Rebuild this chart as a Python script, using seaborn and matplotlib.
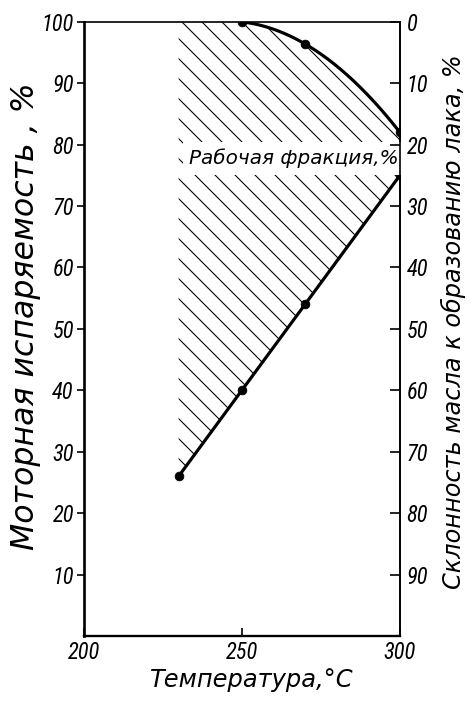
import numpy as np
import pandas as pd
import matplotlib
matplotlib.use("Agg")
import matplotlib.pyplot as plt
import seaborn as sns

# ---- data ----
evap_temp = [230, 250, 270, 300]          # °C
evap_value = [26, 40, 54, 75]             # Моторная испаряемость, % (left axis)
lacq_temp = [250, 270, 300]               # °C
lacq_value = [0, 3.6, 18]                 # Склонность к образованию лака, % (right axis, reversed)
x_ticks = [200, 250, 300]
left_ticks = [10, 20, 30, 40, 50, 60, 70, 80, 90, 100]
right_ticks = [0, 10, 20, 30, 40, 50, 60, 70, 80, 90]
fraction_start = 230

sns.set_theme(style="white")
plt.rcParams["font.family"] = ["Liberation Sans Narrow", "Roboto Condensed", "DejaVu Sans"]
plt.rcParams["font.stretch"] = "condensed"
plt.rcParams["font.style"] = "italic"
plt.rcParams["hatch.linewidth"] = 0.65
plt.rcParams["hatch.color"] = "black"
for k in ["text.color", "axes.labelcolor", "xtick.color", "ytick.color"]:
    plt.rcParams[k] = "black"

LABEL_FONT = dict(family=["DejaVu Sans"], style="italic", stretch="normal")

DPI = 120
fig = plt.figure(figsize=(471 / DPI, 705 / DPI), dpi=DPI)
ax = fig.add_axes([0.178, 0.098, 0.671, 0.871])
ax.set_facecolor("white")

df_evap = pd.DataFrame({"t": evap_temp, "v": evap_value})

# smooth curve for lacquer tendency (quadratic through the read points)
coef = np.polyfit(lacq_temp, lacq_value, 2)
t_s = np.linspace(lacq_temp[0], lacq_temp[-1], 100)
df_lacq_s = pd.DataFrame({"t": t_s, "v": 100 - np.polyval(coef, t_s)})

# hatched working-fraction area
t_f = np.linspace(fraction_start, evap_temp[-1], 300)
upper = np.where(t_f < lacq_temp[0], 100,
                 100 - np.polyval(coef, np.clip(t_f, lacq_temp[0], None)))
lower = np.interp(t_f, evap_temp, evap_value)
ax.fill_between(t_f, lower, upper, facecolor="none", edgecolor="black",
                hatch="\\\\", linewidth=0, zorder=1)

sns.lineplot(data=df_evap, x="t", y="v", ax=ax, color="black", lw=1.9, zorder=3)
sns.scatterplot(data=df_evap, x="t", y="v", ax=ax, color="black", s=28,
                edgecolor="black", zorder=4)
sns.lineplot(data=df_lacq_s, x="t", y="v", ax=ax, color="black", lw=1.9, zorder=3)
sns.scatterplot(x=lacq_temp, y=[100 - v for v in lacq_value], ax=ax, color="black",
                s=28, edgecolor="black", zorder=4)

ax.set_xlim(200, 300)
ax.set_ylim(0, 100)
ax.set_xticks(x_ticks)
ax.set_xticklabels([str(v) for v in x_ticks])
ax.set_yticks(left_ticks)
ax.set_yticklabels([str(v) for v in left_ticks])
ax.tick_params(axis="y", direction="out", length=4, width=1, labelsize=13.5, pad=2,
               left=True)
ax.tick_params(axis="x", direction="in", length=5, width=1, labelsize=13.5, pad=3,
               bottom=True)

ax.set_xlabel("Температура,°C", fontsize=14.5, **LABEL_FONT)
ax.xaxis.set_label_coords(0.53, -0.052)
ax.set_ylabel("Моторная испаряемость , %", fontsize=19, **LABEL_FONT)
ax.yaxis.set_label_coords(-0.135, 0.52)

for side, lw in [("left", 1.6), ("bottom", 1.4), ("top", 1.0), ("right", 1.0)]:
    ax.spines[side].set_visible(True)
    ax.spines[side].set_linewidth(lw)
    ax.spines[side].set_color("black")

ax2 = ax.twinx()
ax2.set_ylim(100, 0)
ax2.set_yticks(right_ticks)
ax2.set_yticklabels([str(v) for v in right_ticks])
ax2.tick_params(axis="y", direction="in", length=6, width=1, labelsize=13.5, pad=4,
                right=True)
for side in ["left", "bottom", "top"]:
    ax2.spines[side].set_visible(False)
ax2.spines["right"].set_linewidth(1.0)
ax2.spines["right"].set_color("black")
ax2.set_ylabel("Склонность масла к образованию лака, %", fontsize=14.4, **LABEL_FONT)
ax2.yaxis.set_label_coords(1.13, 0.511)
ax2.grid(False)
ax.grid(False)

ax.text(266.5, 77.8, "Рабочая фракция,%", fontsize=12, ha="center", va="center",
        zorder=5, bbox=dict(facecolor="white", edgecolor="none", pad=4), **LABEL_FONT)

fig.savefig("out.png", dpi=DPI)
